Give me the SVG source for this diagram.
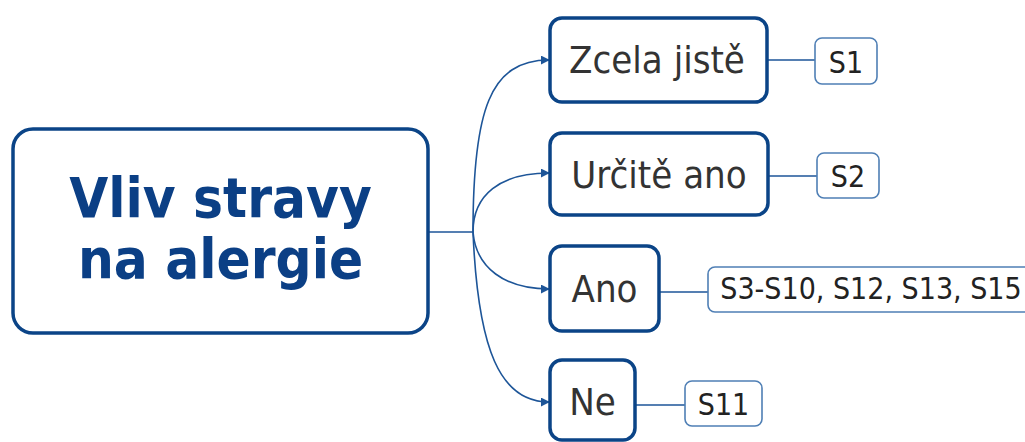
<svg xmlns="http://www.w3.org/2000/svg" width="1025" height="442" viewBox="0 0 1025 442">
  <style>
    .root { fill: #ffffff; stroke: #0b4487; stroke-width: 3.5; }
    .node { fill: #ffffff; stroke: #0b4487; stroke-width: 3.5; }
    .leaf { fill: #ffffff; stroke: #4f7fb5; stroke-width: 1.6; }
    .title { font-family: "DejaVu Sans Condensed", "DejaVu Sans", sans-serif; font-weight: bold; font-size: 56px; fill: #0b3f85; text-anchor: middle; }
    .label { font-family: "DejaVu Sans Condensed", "DejaVu Sans", sans-serif; font-size: 38px; fill: #333333; text-anchor: middle; }
    .leaftext { font-family: "DejaVu Sans Condensed", "DejaVu Sans", sans-serif; font-size: 30px; fill: #222222; text-anchor: middle; }
    .link { fill: none; stroke: #1d5598; stroke-width: 1.6; }
  </style>
  <defs>
    <marker id="arrow" viewBox="0 0 10 10" refX="9" refY="5" markerWidth="9" markerHeight="9" markerUnits="userSpaceOnUse" orient="auto">
      <path d="M0,0 L10,5 L0,10 z" fill="#1d5598"/>
    </marker>
  </defs>

  <!-- connectors -->
  <g id="connectors">
    <path class="link" d="M429,232 H473"/>
    <path class="link" d="M473,232 C473,110 490,60 549,60" marker-end="url(#arrow)"/>
    <path class="link" d="M473,232 C473,195 500,173 549,173" marker-end="url(#arrow)"/>
    <path class="link" d="M473,232 C476,268 505,289 549,289" marker-end="url(#arrow)"/>
    <path class="link" d="M473,232 C478,350 500,402 549,402" marker-end="url(#arrow)"/>
    <path class="link" d="M767,60 H815"/>
    <path class="link" d="M768,176 H817"/>
    <path class="link" d="M659,292 H708"/>
    <path class="link" d="M635,405 H685"/>
  </g>

  <!-- root topic -->
  <g id="root">
    <rect class="root" x="13" y="129" width="415" height="204" rx="20"/>
    <text class="title" x="220.5" y="217">Vliv stravy</text>
    <text class="title" x="220.5" y="278">na alergie</text>
  </g>

  <!-- answer nodes -->
  <g id="node-zcela">
    <rect class="node" x="550" y="18" width="217" height="84" rx="12"/>
    <text class="label" x="657" y="73">Zcela jistě</text>
  </g>
  <g id="node-urcite">
    <rect class="node" x="550" y="133" width="218" height="82" rx="12"/>
    <text class="label" x="659" y="188">Určitě ano</text>
  </g>
  <g id="node-ano">
    <rect class="node" x="550" y="246" width="109" height="85" rx="12"/>
    <text class="label" x="604.5" y="302">Ano</text>
  </g>
  <g id="node-ne">
    <rect class="node" x="550" y="360" width="85" height="80" rx="12"/>
    <text class="label" x="592.5" y="415">Ne</text>
  </g>

  <!-- source leaves -->
  <g id="leaf-s1">
    <rect class="leaf" x="815" y="38" width="62" height="46" rx="7"/>
    <text class="leaftext" x="846" y="73">S1</text>
  </g>
  <g id="leaf-s2">
    <rect class="leaf" x="817" y="153" width="62" height="45" rx="7"/>
    <text class="leaftext" x="848" y="187">S2</text>
  </g>
  <g id="leaf-s3">
    <rect class="leaf" x="708" y="267" width="330" height="45" rx="7"/>
    <text class="leaftext" x="871" y="299">S3-S10, S12, S13, S15</text>
  </g>
  <g id="leaf-s11">
    <rect class="leaf" x="685" y="381" width="77" height="45" rx="7"/>
    <text class="leaftext" x="723.5" y="415">S11</text>
  </g>
</svg>
